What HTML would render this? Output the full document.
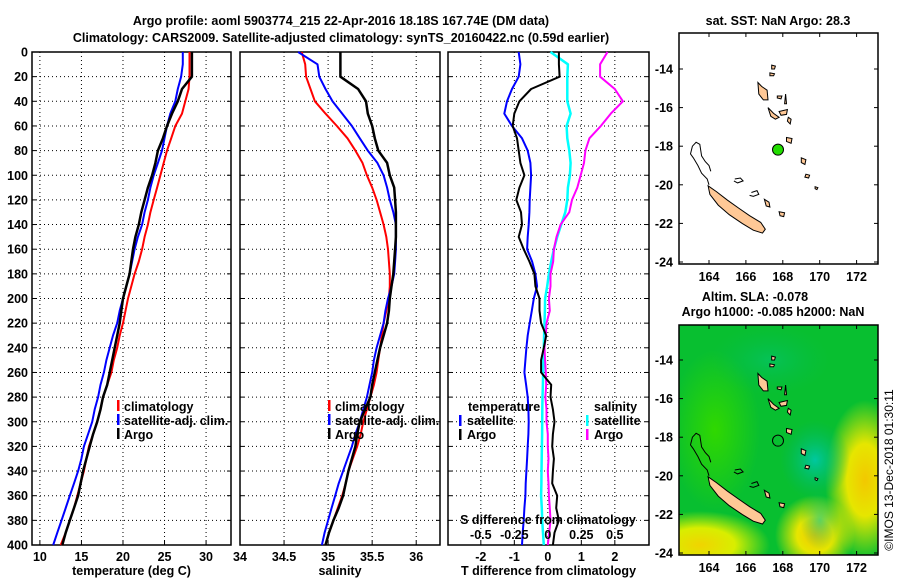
<!DOCTYPE html>
<html><head><meta charset="utf-8"><title>Argo profile</title>
<style>
html,body{margin:0;padding:0;background:#fff;width:900px;height:580px;overflow:hidden;}
svg{display:block;font-family:"Liberation Sans",sans-serif;font-weight:bold;}
text{font-size:12.5px;fill:#000;}
</style></head>
<body>
<svg id="fig" width="900" height="580" viewBox="0 0 900 580" xmlns="http://www.w3.org/2000/svg">
<defs>
<radialGradient id="gY1" cx="0.5" cy="0.5" r="0.5"><stop offset="0" stop-color="#f2c800"/><stop offset="0.45" stop-color="#e6e600"/><stop offset="1" stop-color="#e6e600" stop-opacity="0"/></radialGradient>
<radialGradient id="gY2" cx="0.5" cy="0.5" r="0.5"><stop offset="0" stop-color="#f0d400"/><stop offset="0.5" stop-color="#d8ee00"/><stop offset="1" stop-color="#c8f000" stop-opacity="0"/></radialGradient>
<radialGradient id="gT" cx="0.5" cy="0.5" r="0.5"><stop offset="0" stop-color="#00c8a0"/><stop offset="1" stop-color="#00b860" stop-opacity="0"/></radialGradient>
<radialGradient id="gG" cx="0.5" cy="0.5" r="0.5"><stop offset="0" stop-color="#30d800"/><stop offset="1" stop-color="#30d800" stop-opacity="0"/></radialGradient>
<clipPath id="clipMap2"><rect x="679" y="325" width="199" height="230"/></clipPath>
</defs>

<text x="341" y="25" text-anchor="middle">Argo profile: aoml 5903774_215 22-Apr-2016 18.18S 167.74E (DM data)</text>
<text x="341" y="42" text-anchor="middle">Climatology: CARS2009. Satellite-adjusted climatology: synTS_20160422.nc (0.59d earlier)</text>

<g id="p1"></g>
<g id="p2"></g>
<g id="p3"></g>

<g>
<rect x="117" y="400" width="2.5" height="11" fill="#ff0000"/><text x="124" y="411">climatology</text>
<rect x="117" y="414" width="2.5" height="11" fill="#0000ff"/><text x="124" y="425">satellite-adj. clim.</text>
<rect x="117" y="428" width="2.5" height="11" fill="#000"/><text x="124" y="439">Argo</text>
</g>
<g>
<rect x="328" y="400" width="2.5" height="11" fill="#ff0000"/><text x="335" y="411">climatology</text>
<rect x="328" y="414" width="2.5" height="11" fill="#0000ff"/><text x="335" y="425">satellite-adj. clim.</text>
<rect x="328" y="428" width="2.5" height="11" fill="#000"/><text x="335" y="439">Argo</text>
</g>
<g>
<text x="468" y="411">temperature</text>
<rect x="459" y="415" width="2.5" height="11" fill="#0000ff"/><text x="467" y="425">satellite</text>
<rect x="459" y="429" width="2.5" height="11" fill="#000"/><text x="467" y="439">Argo</text>
<text x="594" y="411">salinity</text>
<rect x="586" y="415" width="2.5" height="11" fill="#00ffff"/><text x="594" y="425">satellite</text>
<rect x="586" y="429" width="2.5" height="11" fill="#ff00ff"/><text x="594" y="439">Argo</text>
</g>

<text x="778" y="25" text-anchor="middle">sat. SST: NaN Argo: 28.3</text>
<g id="map1">
<rect x="679" y="33" width="199" height="231" fill="#fff" stroke="#000" stroke-width="1.5"/>
</g>
<text x="755" y="301" text-anchor="middle">Altim. SLA: -0.078</text>
<text x="773" y="316" text-anchor="middle">Argo h1000: -0.085 h2000: NaN</text>
<g id="map2">
<g clip-path="url(#clipMap2)">
<rect x="679" y="325" width="199" height="230" fill="#08bf30"/>
<ellipse cx="715" cy="430" rx="45" ry="80" fill="url(#gG)"/>
<ellipse cx="700" cy="545" rx="70" ry="34" fill="url(#gY2)"/>
<ellipse cx="815" cy="535" rx="40" ry="40" fill="url(#gY1)"/>
<ellipse cx="865" cy="480" rx="40" ry="80" fill="url(#gY1)"/>
<ellipse cx="815" cy="460" rx="35" ry="40" fill="url(#gT)"/>
<ellipse cx="820" cy="520" rx="20" ry="30" fill="url(#gT)" opacity="0.6"/>
<ellipse cx="770" cy="360" rx="60" ry="35" fill="url(#gT)" opacity="0.35"/>
</g>
<rect x="679" y="325" width="199" height="230" fill="none" stroke="#000" stroke-width="1.5"/>
</g>
<text transform="translate(893,470) rotate(-90)" text-anchor="middle" style="font-weight:normal;font-size:12px">©IMOS 13-Dec-2018 01:30:11</text>

<script>
const depths = [0,10,20,30,40,50,60,70,80,90,100,110,120,130,140,150,160,170,180,190,200,210,220,230,240,250,260,270,280,290,300,310,320,330,340,350,360,370,380,390,400];
const tempArgo = [28.3,28.3,28.3,27.1,26.6,25.9,25.3,24.8,24.2,23.9,23.5,23.0,22.6,22.2,21.9,21.5,21.2,21.0,20.8,20.4,20.0,19.8,19.6,19.3,19.0,18.7,18.4,18.1,17.6,17.3,16.9,16.4,16.0,15.6,15.2,14.9,14.6,14.1,13.6,13.1,12.7];
const tempClim = [28.0,28.0,28.0,27.9,27.5,27.1,26.3,25.8,25.3,24.9,24.5,24.1,23.7,23.3,23.0,22.6,22.3,21.9,21.4,21.0,20.6,20.3,20.0,19.6,19.3,18.9,18.6,18.1,17.6,17.3,16.9,16.4,15.9,15.6,15.3,14.9,14.5,14.1,13.6,13.1,12.5];
const tempSat = [27.2,27.2,27.0,26.6,26.3,25.7,25.3,25.0,24.7,24.2,23.7,23.3,23.0,22.6,22.3,21.8,21.4,21.1,20.8,20.4,20.0,19.6,19.3,18.8,18.4,18.0,17.7,17.3,17.0,16.6,16.3,15.8,15.3,15.0,14.6,14.1,13.6,13.1,12.6,12.1,11.6];
const salArgo = [35.14,35.14,35.14,35.34,35.43,35.45,35.5,35.53,35.57,35.67,35.7,35.75,35.76,35.77,35.77,35.77,35.76,35.75,35.74,35.72,35.7,35.69,35.67,35.63,35.59,35.56,35.53,35.5,35.48,35.42,35.36,35.33,35.31,35.27,35.23,35.2,35.17,35.12,35.06,35.01,34.97];
const salClim = [34.7,34.74,34.75,34.8,34.85,34.97,35.1,35.22,35.31,35.39,35.44,35.5,35.55,35.59,35.63,35.66,35.68,35.69,35.7,35.7,35.69,35.66,35.63,35.61,35.59,35.57,35.55,35.52,35.48,35.44,35.4,35.37,35.33,35.28,35.23,35.2,35.16,35.11,35.06,35.01,34.97];
const salSat = [34.66,34.88,34.9,34.97,35.05,35.16,35.27,35.36,35.45,35.56,35.63,35.67,35.7,35.74,35.77,35.77,35.77,35.76,35.75,35.72,35.68,35.65,35.63,35.59,35.55,35.52,35.5,35.47,35.44,35.4,35.36,35.31,35.27,35.22,35.17,35.12,35.08,35.04,35.0,34.96,34.93];
const tDiffArgo = [0.33,0.33,0.35,-0.5,-0.85,-1.0,-1.05,-0.92,-0.87,-0.82,-0.7,-0.85,-0.94,-0.8,-0.77,-0.87,-0.72,-0.55,-0.4,-0.37,-0.25,-0.25,-0.2,-0.05,-0.12,-0.2,-0.2,0.1,0.08,0.15,0.2,0.15,0.13,0.18,0.15,0.13,0.28,0.25,0.33,0.2,0.15];
const tDiffSat = [-0.87,-0.82,-0.87,-1.07,-1.22,-1.3,-1.07,-0.77,-0.6,-0.52,-0.5,-0.52,-0.54,-0.55,-0.57,-0.6,-0.62,-0.47,-0.37,-0.32,-0.42,-0.48,-0.54,-0.6,-0.64,-0.67,-0.7,-0.65,-0.6,-0.58,-0.57,-0.58,-0.6,-0.62,-0.64,-0.66,-0.67,-0.7,-0.72,-0.75,-0.77];
const sDiffSat = [0.02,0.15,0.145,0.145,0.145,0.17,0.14,0.145,0.16,0.17,0.165,0.15,0.145,0.13,0.1,0.07,0.045,0.025,0.008,-0.005,-0.02,-0.022,-0.025,-0.028,-0.03,-0.033,-0.035,-0.037,-0.04,-0.041,-0.042,-0.043,-0.044,-0.046,-0.047,-0.048,-0.05,-0.045,-0.042,-0.036,-0.03];
const sDiffArgo = [0.445,0.39,0.39,0.5,0.56,0.47,0.395,0.31,0.28,0.27,0.245,0.22,0.18,0.16,0.095,0.065,0.045,0.04,0.02,0.02,0.008,0.015,-0.01,-0.015,-0.025,-0.02,-0.015,-0.012,-0.018,-0.01,-0.01,0.0,0.0,0.005,0.0,0.005,0.008,0.015,0.02,0.01,0.0];
const depthTicks = [0,20,40,60,80,100,120,140,160,180,200,220,240,260,280,300,320,340,360,380,400];
const tempTicks = [10,15,20,25,30];
const salTicks = [34,34.5,35,35.5,36];
const tDiffTicks = [-2,-1,0,1,2];
const sDiffTickLabels = ["-0.5","-0.25","0","0.25","0.5"];
const sDiffTicks = [-0.5,-0.25,0,0.25,0.5];
const lonTicks = [164,166,168,170,172];
const latTicks = [-14,-16,-18,-20,-22,-24];
const argoLon = 167.74, argoLat = -18.18;

const NS = "http://www.w3.org/2000/svg";
function mk(tag, attrs, parent){const e=document.createElementNS(NS,tag);for(const k in attrs)e.setAttribute(k,attrs[k]);parent.appendChild(e);return e;}
const TOP=52, BOT=545;
const yD = d => TOP + d*(BOT-TOP)/400;

function panel(g, x0, x1, vmin, vmax, xticks, xlabels, title, showY){
  const xs = v => x0 + (v-vmin)/(vmax-vmin)*(x1-x0);
  depthTicks.forEach(d=>{ if(d>0&&d<400){
    const l=mk('line',{x1:x0,x2:x1,y1:yD(d),y2:yD(d),stroke:'#000','stroke-width':1,'stroke-dasharray':'1,3'},g);
    
    
  }
    mk('line',{x1:x0,x2:x0+4,y1:yD(d),y2:yD(d),stroke:'#000','stroke-width':1},g);
    mk('line',{x1:x1,x2:x1-4,y1:yD(d),y2:yD(d),stroke:'#000','stroke-width':1},g);
    if(showY){const t=mk('text',{x:x0-4,y:yD(d)+4.5,'text-anchor':'end'},g);t.textContent=d;
      
      }
  });
  xticks.forEach((v,i)=>{
    const X=xs(v);
    const l=mk('line',{x1:X,x2:X,y1:TOP,y2:BOT,stroke:'#000','stroke-width':1,'stroke-dasharray':'1,3'},g);
    
    
    mk('line',{x1:X,x2:X,y1:BOT,y2:BOT-4,stroke:'#000','stroke-width':1},g);
    const t=mk('text',{x:X,y:561,'text-anchor':'middle'},g);t.textContent=xlabels[i];
    
    
  });
  const r=mk('rect',{x:x0,y:TOP,width:x1-x0,height:BOT-TOP,fill:'none',stroke:'#000','stroke-width':1.5},g);
  
  
  const tt=mk('text',{x:(x0+x1)/2,y:575,'text-anchor':'middle'},g);tt.textContent=title;
  
  
  return xs;
}
function line(g, xs, vals, color, w, name){
  const pts = vals.map((v,i)=>xs(v).toFixed(1)+','+yD(depths[i]).toFixed(1)).join(' ');
  const p=mk('polyline',{points:pts,fill:'none',stroke:color,'stroke-width':w,'stroke-linejoin':'round'},g);
  
  
}
const p1=document.getElementById('p1'), p2=document.getElementById('p2'), p3=document.getElementById('p3');
const xT = panel(p1,32,231,9.05,33,tempTicks,tempTicks.map(String),'temperature (deg C)',true);
line(p1,xT,tempClim,'#ff0000',2,'temp-climatology-line');
line(p1,xT,tempSat,'#0000ff',2,'temp-satellite-line');
line(p1,xT,tempArgo,'#000',2.5,'temp-argo-line');
const xS = panel(p2,240,440,34,36.27,salTicks,salTicks.map(String),'salinity',false);
line(p2,xS,salClim,'#ff0000',2,'sal-climatology-line');
line(p2,xS,salSat,'#0000ff',2,'sal-satellite-line');
line(p2,xS,salArgo,'#000',2.5,'sal-argo-line');
const xDT = panel(p3,448,649,-2.98,3.02,tDiffTicks,tDiffTicks.map(String),'T difference from climatology',false);
const xDS = v => xDT(v*4);
line(p3,xDT,tDiffSat,'#0000ff',2,'tdiff-satellite-line');
line(p3,xDS,sDiffSat,'#00ffff',2.5,'sdiff-satellite-line');
line(p3,xDS,sDiffArgo,'#ff00ff',2,'sdiff-argo-line');
line(p3,xDT,tDiffArgo,'#000',2,'tdiff-argo-line');
{const t=mk('text',{x:548,y:524,'text-anchor':'middle'},p3);t.textContent='S difference from climatology';
 
 }
sDiffTicks.forEach((v,i)=>{const t=mk('text',{x:xDS(v),y:539,'text-anchor':'middle'},p3);t.textContent=sDiffTickLabels[i];
 
 });

const islands = [
 [[163.95,-20.05],[164.4,-20.35],[165.0,-20.8],[165.6,-21.2],[166.2,-21.6],[166.8,-21.95],[167.05,-22.3],[166.9,-22.5],[166.4,-22.35],[165.8,-22.0],[165.1,-21.55],[164.5,-21.05],[164.05,-20.5]],
 [[166.65,-14.7],[166.85,-14.9],[167.15,-15.1],[167.2,-15.6],[166.95,-15.6],[166.7,-15.3]],
 [[167.2,-16.0],[167.5,-16.3],[167.8,-16.5],[167.6,-16.6],[167.35,-16.45]],
 [[168.15,-15.3],[168.2,-15.8],[168.1,-15.8]],
 [[168.2,-17.55],[168.5,-17.6],[168.45,-17.85],[168.2,-17.75]],
 [[169.0,-18.6],[169.25,-18.7],[169.2,-18.95],[169.0,-18.85]],
 [[169.25,-19.45],[169.45,-19.5],[169.4,-19.65],[169.2,-19.6]],
 [[167.8,-16.2],[168.25,-16.1],[168.2,-16.35],[167.9,-16.4]],
 [[167.4,-13.8],[167.6,-13.85],[167.55,-14.0],[167.4,-14.0]],
 [[167.3,-14.2],[167.55,-14.25],[167.5,-14.35],[167.3,-14.35]],
 [[167.0,-20.75],[167.25,-20.9],[167.3,-21.15],[167.1,-21.1]],
 [[167.8,-21.4],[168.1,-21.45],[168.05,-21.65],[167.85,-21.6]],
 [[168.3,-16.5],[168.45,-16.6],[168.4,-16.85],[168.25,-16.7]],
 [[169.75,-20.1],[169.9,-20.15],[169.85,-20.25],[169.75,-20.2]],
 [[167.7,-15.4],[167.95,-15.4],[167.9,-15.55],[167.7,-15.5]]
];
const outlines = [
 [[164.0,-20.0],[163.9,-19.7],[163.6,-19.4],[163.4,-19.0],[163.15,-18.6],[163.0,-18.4],[163.1,-18.0],[163.3,-17.8],[163.5,-17.9],[163.6,-18.5],[163.8,-18.8],[164.0,-19.0],[164.1,-19.3]],
 [[165.4,-19.7],[165.7,-19.65],[165.85,-19.8],[165.55,-19.9],[165.35,-19.8]],
 [[166.3,-20.4],[166.6,-20.3],[166.7,-20.5],[166.4,-20.6],[166.2,-20.55]]
];
function drawMap(g, y0, latTop){
  const mx = lon => 709 + (lon-164)*18.45;
  const my = lat => y0 + (-14-lat)*19.3;
  islands.forEach(poly=>{
    const p=mk('polygon',{points:poly.map(q=>mx(q[0]).toFixed(1)+','+my(q[1]).toFixed(1)).join(' '),fill:'#ffc896',stroke:'#000','stroke-width':1},g);
    
    
  });
  outlines.forEach(poly=>{
    const p=mk('polyline',{points:poly.map(q=>mx(q[0]).toFixed(1)+','+my(q[1]).toFixed(1)).join(' '),fill:'none',stroke:'#000','stroke-width':1},g);
    
    
  });
  lonTicks.forEach(v=>{
    mk('line',{x1:mx(v),x2:mx(v),y1:latTop[1],y2:latTop[1]-4,stroke:'#000'},g);
    mk('line',{x1:mx(v),x2:mx(v),y1:latTop[0],y2:latTop[0]+4,stroke:'#000'},g);
    const t=mk('text',{x:mx(v),y:latTop[1]+17,'text-anchor':'middle'},g);t.textContent=v;
    
    
  });
  latTicks.forEach(v=>{
    mk('line',{x1:679,x2:683,y1:my(v),y2:my(v),stroke:'#000'},g);
    mk('line',{x1:878,x2:874,y1:my(v),y2:my(v),stroke:'#000'},g);
    const t=mk('text',{x:673,y:my(v)+4.5,'text-anchor':'end'},g);t.textContent=v;
    
    
  });
  return [mx,my];
}
const m1 = drawMap(document.getElementById('map1'), 69, [33,264]);
{const c=mk('circle',{cx:m1[0](argoLon),cy:m1[1](argoLat),r:5.5,fill:'#22dd00',stroke:'#000','stroke-width':1},document.getElementById('map1'));
 
 }
const m2 = drawMap(document.getElementById('map2'), 360, [325,555]);
{const c=mk('circle',{cx:m2[0](argoLon),cy:m2[1](argoLat),r:5.5,fill:'none',stroke:'#000','stroke-width':1},document.getElementById('map2'));
 
 }
</script>
</svg>
</body></html>
